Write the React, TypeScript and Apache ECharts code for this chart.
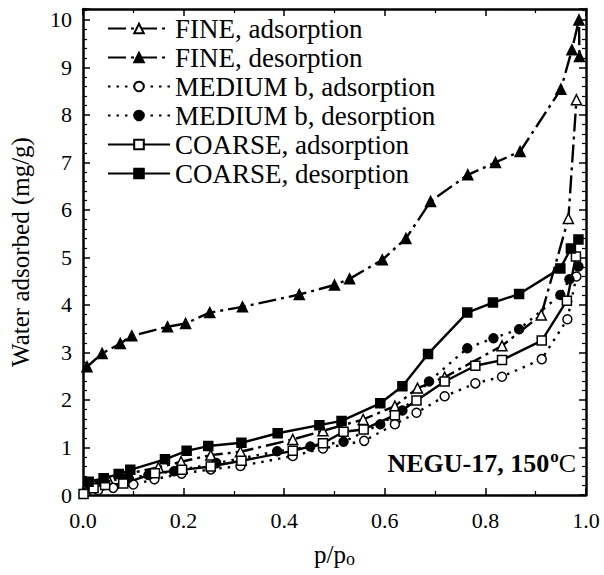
import React, { useEffect, useRef } from "react";
import * as echarts from "echarts";

const FONT = "'Liberation Serif', 'Times New Roman', serif";

const X_TICKS = [0, 0.2, 0.4, 0.6, 0.8, 1.0];
const Y_TICKS = [0, 1, 2, 3, 4, 5, 6, 7, 8, 9, 10];

const SERIES_NAMES = [
  "FINE, adsorption",
  "FINE, desorption",
  "MEDIUM b, adsorption",
  "MEDIUM b, desorption",
  "COARSE, adsorption",
  "COARSE, desorption",
];

const FINE_ADS: [number, number][] = [
  [0.005, 0.15], [0.02, 0.25], [0.05, 0.33], [0.09, 0.45], [0.15, 0.58],
  [0.195, 0.7], [0.254, 0.84], [0.313, 0.91], [0.417, 1.17], [0.477, 1.35],
  [0.557, 1.59], [0.62, 1.87], [0.665, 2.25], [0.719, 2.48], [0.833, 3.14],
  [0.911, 3.79], [0.965, 5.82], [0.981, 8.32],
];

const FINE_DES: [number, number][] = [
  [0.008, 2.7], [0.038, 2.98], [0.074, 3.19], [0.097, 3.35], [0.168, 3.54],
  [0.204, 3.61], [0.252, 3.84], [0.317, 3.96], [0.43, 4.22], [0.5, 4.42],
  [0.53, 4.55], [0.595, 4.95], [0.642, 5.4], [0.691, 6.18], [0.765, 6.74],
  [0.82, 7.0], [0.869, 7.23], [0.95, 8.54], [0.972, 9.37], [0.986, 10.0],
  [0.987, 9.23],
];

const MED_ADS: [number, number][] = [
  [0.005, 0.05], [0.03, 0.1], [0.06, 0.15], [0.1, 0.22], [0.142, 0.33],
  [0.196, 0.45], [0.254, 0.54], [0.313, 0.61], [0.417, 0.82], [0.477, 0.98],
  [0.559, 1.14], [0.62, 1.49], [0.663, 1.73], [0.719, 2.08], [0.78, 2.35],
  [0.833, 2.49], [0.912, 2.86], [0.963, 3.7], [0.981, 4.6],
];

const MED_DES: [number, number][] = [
  [0.012, 0.22], [0.04, 0.28], [0.09, 0.36], [0.13, 0.42], [0.181, 0.5],
  [0.265, 0.67], [0.386, 0.92], [0.452, 1.02], [0.518, 1.12], [0.591, 1.49],
  [0.635, 1.78], [0.688, 2.39], [0.764, 3.09], [0.816, 3.3], [0.867, 3.49],
  [0.949, 4.21], [0.967, 4.54], [0.985, 4.81],
];

const COARSE_ADS: [number, number][] = [
  [0.001, 0.02], [0.021, 0.14], [0.044, 0.21], [0.08, 0.24], [0.143, 0.46],
  [0.197, 0.53], [0.254, 0.6], [0.315, 0.72], [0.417, 0.93], [0.477, 1.09],
  [0.518, 1.33], [0.558, 1.38], [0.62, 1.68], [0.663, 1.99], [0.719, 2.39],
  [0.78, 2.72], [0.833, 2.84], [0.912, 3.25], [0.962, 4.09], [0.98, 5.02],
];

const COARSE_DES: [number, number][] = [
  [0.011, 0.28], [0.041, 0.35], [0.071, 0.44], [0.094, 0.53], [0.163, 0.75],
  [0.206, 0.93], [0.249, 1.03], [0.315, 1.1], [0.387, 1.3], [0.47, 1.47],
  [0.514, 1.56], [0.591, 1.93], [0.635, 2.29], [0.686, 2.97], [0.764, 3.84],
  [0.815, 4.05], [0.867, 4.23], [0.949, 4.77], [0.97, 5.19], [0.985, 5.38],
];

const DASH_DOT = [18, 5, 3, 5];
const DOTTED = [2.5, 6];

function mk(name: string, data: [number, number][], symbol: string, filled: boolean, lineType: any) {
  return {
    name,
    type: "line",
    data,
    symbol,
    symbolSize: symbol === "rect" ? 9 : symbol === "triangle" ? 10 : 9,
    showSymbol: true,
    lineStyle: { color: "#000", width: 2.4, type: lineType },
    itemStyle: { color: filled ? "#000" : "#fff", borderColor: "#000", borderWidth: 1.5 },
    emphasis: { disabled: true },
    silent: true,
  };
}

export default function App() {
  const ref = useRef<HTMLDivElement>(null);
  useEffect(() => {
    if (!ref.current) return;
    const chart = echarts.init(ref.current, undefined, { renderer: "svg" });
    const axisLine = { show: true, onZero: false, lineStyle: { color: "#000", width: 2.5 } };
    const xBase = {
      type: "value",
      min: X_TICKS[0],
      max: X_TICKS[X_TICKS.length - 1],
      interval: 0.2,
      axisLine,
      axisTick: { show: true, inside: true, length: 7, lineStyle: { color: "#000", width: 1.5 } },
      minorTick: { show: true, splitNumber: 2, length: 4, lineStyle: { color: "#000", width: 1.2 } },
      splitLine: { show: false },
      minorSplitLine: { show: false },
    };
    const yBase = {
      type: "value",
      min: Y_TICKS[0],
      max: 10.23,
      interval: 1,
      axisLine,
      axisTick: { show: true, inside: true, length: 7, lineStyle: { color: "#000", width: 1.5 } },
      minorTick: { show: true, splitNumber: 5, length: 4, lineStyle: { color: "#000", width: 1.2 } },
      splitLine: { show: false },
      minorSplitLine: { show: false },
    };
    chart.setOption({
      animation: false,
      backgroundColor: "#fff",
      textStyle: { fontFamily: FONT },
      grid: { left: 81, right: 18, top: 9, bottom: 80, containLabel: false },
      legend: {
        orient: "vertical",
        left: 102,
        top: 10,
        padding: 5,
        itemWidth: 62,
        itemHeight: 12,
        itemGap: 2,
        selectedMode: false,
        data: SERIES_NAMES,
        textStyle: { fontFamily: FONT, fontSize: 27, color: "#000", lineHeight: 27 },
      },
      xAxis: [
        {
          ...xBase,
          position: "bottom",
          axisLabel: {
            fontFamily: FONT,
            fontSize: 22,
            color: "#000",
            margin: 14,
            formatter: (v: number) => v.toFixed(1),
          },
          name: "{a|p/p}{s|o}",
          nameLocation: "middle",
          nameGap: 45,
          nameTextStyle: {
            rich: {
              a: { fontFamily: FONT, fontSize: 25, color: "#000" },
              s: { fontFamily: FONT, fontSize: 18, color: "#000", padding: [10, 0, 0, 0] },
            },
          },
        },
        { ...xBase, position: "top", axisLabel: { show: false } },
      ],
      yAxis: [
        {
          ...yBase,
          position: "left",
          axisLabel: {
            fontFamily: FONT,
            fontSize: 22,
            color: "#000",
            margin: 11,
            formatter: (v: number) => (Math.abs(v - Math.round(v)) < 1e-6 ? String(Math.round(v)) : ""),
          },
          name: "Water adsorbed (mg/g)",
          nameLocation: "middle",
          nameGap: 50,
          nameTextStyle: { fontFamily: FONT, fontSize: 25, color: "#000" },
        },
        { ...yBase, position: "right", axisLabel: { show: false } },
      ],
      graphic: [
        {
          type: "text",
          right: 28,
          top: 448,
          style: {
            text: "{b|NEGU-17, 150}{sup|o}{c|C}",
            rich: {
              b: { fontFamily: FONT, fontSize: 26, fontWeight: "bold", fill: "#000", lineHeight: 28 },
              sup: { fontFamily: FONT, fontSize: 17, fontWeight: "bold", fill: "#000", padding: [0, 0, 14, 1] },
              c: { fontFamily: FONT, fontSize: 26, fill: "#000", lineHeight: 28 },
            },
          },
        },
      ],
      series: [
        mk(SERIES_NAMES[0], FINE_ADS, "triangle", false, DASH_DOT),
        mk(SERIES_NAMES[1], FINE_DES, "triangle", true, DASH_DOT),
        mk(SERIES_NAMES[2], MED_ADS, "circle", false, DOTTED),
        mk(SERIES_NAMES[3], MED_DES, "circle", true, DOTTED),
        mk(SERIES_NAMES[4], COARSE_ADS, "rect", false, "solid"),
        mk(SERIES_NAMES[5], COARSE_DES, "rect", true, "solid"),
      ],
    });
    return () => chart.dispose();
  }, []);
  return (
    <div
      ref={ref}
      style={{ position: "fixed", left: 0, top: 0, width: 604, height: 575, background: "#fff" }}
    />
  );
}
